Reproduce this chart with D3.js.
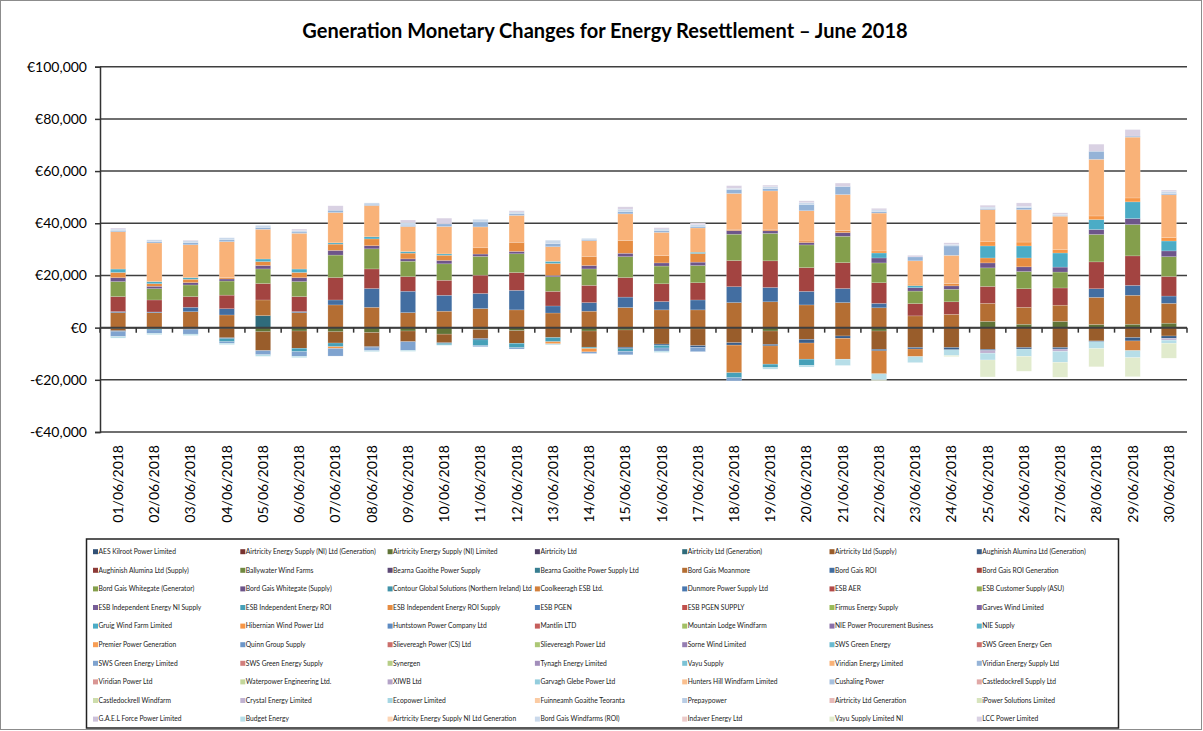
<!DOCTYPE html>
<html lang="en">
<head>
<meta charset="utf-8">
<title>Generation Monetary Changes</title>
<script src="https://cdn.jsdelivr.net/npm/d3@7"></script>
<style>
  body { margin: 0; background: #fff; }
  svg { font-family: Lato, "Liberation Sans", sans-serif; }
  .ylab text, .xlab text { font-size: 14px; fill: #000; }
  .legend text { font-size: 6.7px; fill: #222; }
</style>
</head>
<body>
<div id="chart"></div>
<script>
// categories (x axis)
var categories = ["01/06/2018","02/06/2018","03/06/2018","04/06/2018","05/06/2018","06/06/2018","07/06/2018","08/06/2018","09/06/2018","10/06/2018",
  "11/06/2018","12/06/2018","13/06/2018","14/06/2018","15/06/2018","16/06/2018","17/06/2018","18/06/2018","19/06/2018","20/06/2018",
  "21/06/2018","22/06/2018","23/06/2018","24/06/2018","25/06/2018","26/06/2018","27/06/2018","28/06/2018","29/06/2018","30/06/2018"];

// every participant, in legend / stacking order
var seriesNames = [
  "AES Kilroot Power Limited","Airtricity Energy Supply (NI) Ltd (Generation)","Airtricity Energy Supply (NI) Limited","Airtricity Ltd","Airtricity Ltd (Generation)","Airtricity Ltd (Supply)","Aughinish Alumina Ltd (Generation)",
  "Aughinish Alumina Ltd (Supply)","Ballywater Wind Farms","Bearna Gaoithe Power Supply","Bearna Gaoithe Power Supply Ltd","Bord Gais Moanmore","Bord Gais ROI","Bord Gais ROI Generation",
  "Bord Gais Whitegate (Generator)","Bord Gais Whitegate (Supply)","Contour Global Solutions (Northern Ireland) Ltd","Coolkeeragh ESB Ltd.","Dunmore Power Supply Ltd","ESB AER","ESB Customer Supply (ASU)",
  "ESB Independent Energy NI Supply","ESB Independent Energy ROI","ESB Independent Energy ROI Supply","ESB PGEN","ESB PGEN SUPPLY","Firmus Energy Supply","Garves Wind Limited",
  "Gruig Wind Farm Limited","Hibernian Wind Power Ltd","Huntstown Power Company Ltd","Mantlin LTD","Mountain Lodge Windfarm","NIE Power Procurement Business","NIE Supply",
  "Premier Power Generation","Quinn Group Supply","Slievereagh Power (CS) Ltd","Slievereagh Power Ltd","Sorne Wind Limited","SWS Green Energy","SWS Green Energy Gen",
  "SWS Green Energy Limited","SWS Green Energy Supply","Synergen","Tynagh Energy Limited","Vayu Supply","Viridian Energy Limited","Viridian Energy Supply Ltd",
  "Viridian Power Ltd","Waterpower Engineering Ltd.","XIWB Ltd","Garvagh Glebe Power Ltd","Hunters Hill Windfarm Limited","Cushaling Power","Castledockrell Supply Ltd",
  "Castledockrell Windfarm","Crystal Energy Limited","Ecopower Limited","Fuinneamh Goaithe Teoranta","Prepaypower","Airtricity Ltd Generation","iPower Solutions Limited",
  "G.A.E.L Force Power Limited","Budget Energy","Airtricity Energy Supply NI Ltd Generation","Bord Gais Windfarms (ROI)","Indaver Energy Ltd","Vayu Supply Limited NI","LCC Power Limited"];

// daily values (EUR) for the participants that show up; all others are 0
var airtricityNILimited = [-300,-200,-200,-200,-1600,-1300,-1600,-1900,-1300,-2500,-700,-1200,0,-1300,-900,-400,-500,0,-1300,0,0,-1300,0,0,2400,1300,2400,1200,1300,1700];
var airtricityGeneration = [0,0,0,0,4600,0,0,0,0,0,0,0,0,0,0,0,0,0,0,0,0,0,0,0,0,0,0,0,0,0];
var airtricitySupply = [-900,-300,-300,-3700,-7200,-6600,-4300,-5400,-4100,-3300,-3500,-4800,-3800,-6200,-6600,-5900,-6400,-5800,-5100,-4500,-3200,-7000,-7600,-7600,-8300,-7600,-7600,-5100,-3800,-3200];
var aughinishGeneration = [-300,0,-300,-300,0,0,0,-400,0,-200,-500,0,0,0,-600,-500,-700,-900,-600,-1400,-900,-600,-600,-900,-500,-600,-600,-300,-1300,-900];
var bordGaisMoanmore = [5750,5700,6100,4850,6000,5750,8700,7800,5750,6300,7300,6800,5600,6300,7700,6800,6800,9600,9900,8700,9600,7600,4500,5100,6900,6500,6200,10400,11100,7600];
var bordGaisROI = [400,300,1700,2400,0,400,1900,7200,8200,6100,5800,7500,2700,3300,4000,3200,3800,6100,5500,5200,5400,1700,0,0,0,0,0,3300,3800,2800];
var bordGaisROIGeneration = [5750,4600,4100,5200,6300,5750,8600,7500,5600,5750,7000,6800,5600,6600,7500,6800,6600,10000,10200,9100,9900,7900,4700,4800,6500,7100,6600,10300,11300,7500];
var whitegateGenerator = [5750,4350,4450,5400,5600,5750,8600,7700,5900,6300,7200,7200,5600,6300,8000,6800,6600,10100,10500,8700,10100,7600,4800,4800,7100,6600,6100,10500,12000,7600];
var whitegateSupply = [1500,900,900,800,1300,1500,1800,1200,900,1300,900,900,500,1300,1300,1200,1300,1400,1000,900,1400,1900,1300,1300,1900,1800,1900,1900,2300,2200];
var coolkeeragh = [0,0,0,0,0,0,0,0,0,0,0,0,0,0,0,0,0,-10600,-7000,-6200,-8000,-8800,-2900,0,0,0,0,0,-3700,0];
var esbIndependentROI = [0,-400,0,-1200,0,-1300,-1400,0,0,-600,-2200,-1700,-1600,-500,-1000,-1000,0,-1900,-1300,-2400,0,0,0,0,0,0,0,0,0,0];
var esbIndependentROISupply = [2000,1000,1300,500,1500,2000,2400,2600,2200,2000,2400,3500,4600,3500,4900,2800,3300,500,600,600,800,0,0,900,1900,3400,0,0,0,0];
var gruigWindFarm = [1300,800,600,0,1000,1300,500,800,600,500,0,0,800,0,0,0,500,0,0,0,0,1900,800,0,4600,4600,5400,3800,6400,3800];
var hibernianWind = [0,0,0,0,0,0,-700,0,0,0,0,0,-800,-1300,0,0,0,0,0,0,0,800,600,0,1800,1500,1400,1400,1500,1300];
var swsGreenEnergyLimited = [-1900,-1300,-1700,-600,-1600,-1800,-2900,-1100,-3300,0,-400,-500,0,-600,-1300,-1200,-1600,-1200,0,0,0,0,0,0,0,0,0,0,0,0];
var viridianEnergy = [14300,14800,12600,13800,11400,13700,11600,12000,9600,10500,8000,10300,5600,6000,10200,8900,9300,13700,14700,11600,13800,14500,8900,10800,12100,12400,12700,21700,23300,16400];
var viridianEnergySupply = [500,500,800,700,700,500,900,500,500,1000,1900,600,1200,500,900,600,600,1500,900,2400,3100,500,1500,3600,400,800,300,3100,400,500];
var crystalEnergy = [0,0,0,0,0,0,0,0,0,0,0,0,0,0,0,0,0,0,0,0,0,0,0,0,-1000,0,-900,0,0,-700];
var budgetEnergy = [-600,-500,-500,-500,-600,-500,0,-400,-400,-200,0,0,-400,0,0,-500,0,0,-600,-600,-2400,-2300,-2300,-2200,-2600,-2800,-4200,-2600,-2700,-1200];
var bordGaisWindfarms = [500,700,700,800,800,500,0,500,1000,0,1000,700,1300,400,900,700,700,500,700,700,0,700,0,600,600,500,400,0,0,800];
var vayuSupplyNI = [0,0,0,0,0,0,0,0,0,0,0,0,0,0,0,0,0,0,0,0,0,-300,0,-400,-6500,-5700,-5700,-7000,-7300,-5700];
var lccPower = [400,0,300,0,0,600,1700,0,1000,2200,0,500,0,0,900,500,600,1000,600,700,1300,600,600,600,700,1300,600,2700,2500,500];

var yTicks = [-40000,-20000,0,20000,40000,60000,80000,100000];

// name -> values table for the stack
var known = new Map([
  ["Airtricity Energy Supply (NI) Limited", airtricityNILimited],
  ["Airtricity Ltd (Generation)", airtricityGeneration],
  ["Airtricity Ltd (Supply)", airtricitySupply],
  ["Aughinish Alumina Ltd (Generation)", aughinishGeneration],
  ["Bord Gais Moanmore", bordGaisMoanmore],
  ["Bord Gais ROI", bordGaisROI],
  ["Bord Gais ROI Generation", bordGaisROIGeneration],
  ["Bord Gais Whitegate (Generator)", whitegateGenerator],
  ["Bord Gais Whitegate (Supply)", whitegateSupply],
  ["Coolkeeragh ESB Ltd.", coolkeeragh],
  ["ESB Independent Energy ROI", esbIndependentROI],
  ["ESB Independent Energy ROI Supply", esbIndependentROISupply],
  ["Gruig Wind Farm Limited", gruigWindFarm],
  ["Hibernian Wind Power Ltd", hibernianWind],
  ["SWS Green Energy Limited", swsGreenEnergyLimited],
  ["Viridian Energy Limited", viridianEnergy],
  ["Viridian Energy Supply Ltd", viridianEnergySupply],
  ["Crystal Energy Limited", crystalEnergy],
  ["Budget Energy", budgetEnergy],
  ["Bord Gais Windfarms (ROI)", bordGaisWindfarms],
  ["Vayu Supply Limited NI", vayuSupplyNI],
  ["LCC Power Limited", lccPower]
]);

var rows = categories.map(function(c, i){
  var row = {day: c};
  seriesNames.forEach(function(n){ row[n] = known.has(n) ? known.get(n)[i] : 0 });
  return row;
});

// excel style colours: 6 accents, shaded darker -> lighter each round
var accents = ["#4F81BD","#C0504D","#9BBB59","#8064A2","#4BACC6","#F79646"];
var shades = [-0.38,-0.27,-0.15,-0.07,0,0.08,0.17,0.27,0.4,0.5,0.6,0.7];
function seriesColor(i){
  var base = accents[i % 6];
  if (seriesNames[i] == "SWS Green Energy Gen") base = accents[1]; // shown red in the original
  var f = shades[Math.floor(i / 6)];
  return f < 0 ? d3.interpolateRgb(base, "#000")(-f) : d3.interpolateRgb(base, "#fff")(f);
}

var W = 1203, H = 731;
var plotLeft = 100, plotRight = 1187, plotTop = 66.7, plotBottom = 432;

var svg = d3.select("#chart").append("svg").attr("width", W).attr("height", H);

svg.append("rect").attr("x",0.5).attr("y",0.5).attr("width",W-2).attr("height",H-2)
  .attr("fill","#fff").attr("stroke","#8c8c8c");

var x = d3.scaleBand().domain(categories).range([plotLeft, plotRight]).paddingInner(0.58).paddingOuter(0.29);
var y = d3.scaleLinear().domain([-40000, 100000]).range([plotBottom, plotTop]);

// title
svg.append("text").attr("x", 605).attr("y", 38).attr("text-anchor","middle")
  .style("font-size","20px").style("font-weight","bold").text("Generation Monetary Changes for Energy Resettlement \u2013 June 2018");

// gridlines
svg.append("g").selectAll("line").data(yTicks).join("line")
  .attr("x1", plotLeft).attr("x2", plotRight)
  .attr("y1", function(d){ return y(d) }).attr("y2", function(d){ return y(d) })
  .attr("stroke", "#3f3f3f").attr("stroke-width", 1.5);

// bars
var stacked = d3.stack().keys(seriesNames).offset(d3.stackOffsetDiverging)(rows);
svg.append("g").selectAll("g").data(stacked).join("g")
  .attr("fill", function(d, i){ return seriesColor(i) })
  .selectAll("rect").data(function(d){ return d.filter(function(p){ return p[1] != p[0] }) }).join("rect")
  .attr("x", function(d){ return x(d.data.day) })
  .attr("width", x.bandwidth())
  .attr("y", function(d){ return y(d[1]) })
  .attr("height", function(d){ return y(d[0]) - y(d[1]) })
  .attr("stroke", "rgba(255,255,255,0.35)").attr("stroke-width", 0.5);

// y axis
var yAxis = svg.append("g").attr("class","ylab").attr("transform","translate(" + plotLeft + ",0)")
  .call(d3.axisLeft(y).tickValues(yTicks).tickSize(5).tickPadding(8)
    .tickFormat(function(v){ return v < 0 ? "-\u20ac" + d3.format(",")(-v) : "\u20ac" + d3.format(",")(v) }));
yAxis.select(".domain").attr("stroke","#333").attr("stroke-width",1.5);
yAxis.selectAll(".tick line").attr("stroke","#333").attr("stroke-width",1.5);
yAxis.selectAll("text").style("font-family","Lato, sans-serif");

// x axis line at zero with ticks between categories
var step = x.step();
svg.append("line").attr("x1", plotLeft).attr("x2", plotRight).attr("y1", y(0)).attr("y2", y(0))
  .attr("stroke","#3f3f3f").attr("stroke-width",2);
svg.append("g").selectAll("line").data(d3.range(categories.length + 1)).join("line")
  .attr("x1", function(i){ return plotLeft + i * step }).attr("x2", function(i){ return plotLeft + i * step })
  .attr("y1", y(0)).attr("y2", y(0) + 5).attr("stroke","#333").attr("stroke-width",1.5);

// category labels, at the bottom of the plot
svg.append("g").attr("class","xlab").selectAll("text").data(categories).join("text")
  .attr("transform", function(c){ return "translate(" + (x(c) + x.bandwidth()/2) + "," + (plotBottom + 13) + ") rotate(-90)" })
  .attr("text-anchor","end").attr("dy","0.35em").text(function(c){ return c });

// legend
var lg = svg.append("g").attr("class","legend");
lg.append("rect").attr("x",86.5).attr("y",539).attr("width",1032).attr("height",189)
  .attr("fill","none").attr("stroke","#222").attr("stroke-width",1.5);
var item = lg.selectAll("g.item").data(seriesNames).join("g").attr("class","item")
  .attr("transform", function(n, i){ return "translate(" + (93 + (i % 7) * 147.3) + "," + (551.7 + Math.floor(i / 7) * 18.6) + ")" });
item.append("rect").attr("x",0).attr("y",-2.5).attr("width",5).attr("height",5)
  .attr("fill", function(n, i){ return seriesColor(i) });
item.append("text").attr("x",5.5).attr("dy","0.35em").text(function(n){ return n });
</script>
</body>
</html>
